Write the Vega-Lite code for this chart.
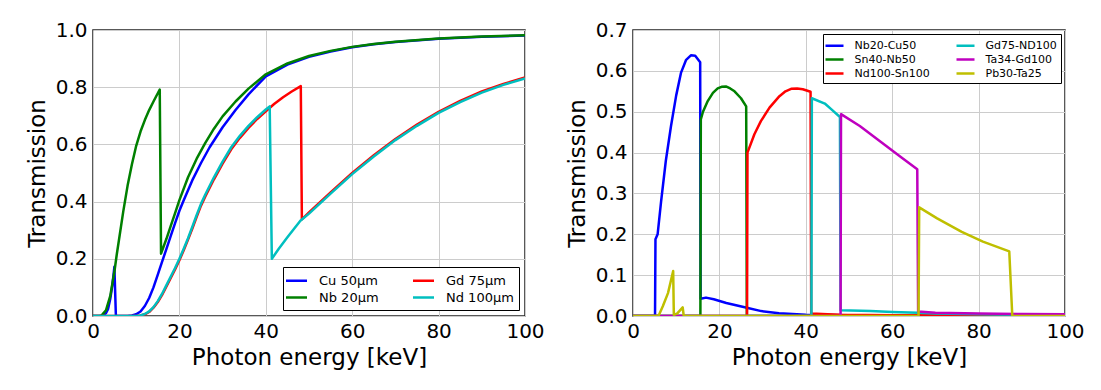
{
  "$schema": "https://vega.github.io/schema/vega-lite/v6.json",
  "background": "white",
  "padding": {"left": 25, "top": 19, "right": 5, "bottom": 5},
  "spacing": 108,
  "bounds": "flush",
  "resolve": {"scale": {"color": "independent"}, "legend": {"color": "independent"}},
  "config": {
    "font": "DejaVu Sans",
    "view": {"stroke": "#222222", "strokeWidth": 1.5},
    "axis": {"labelFont": "DejaVu Sans", "titleFont": "DejaVu Sans", "labelFontSize": 20, "titleFontSize": 23, "titleFontWeight": "normal", "labelColor": "#000000", "titleColor": "#000000", "ticks": false, "domain": false, "gridColor": "#cccccc", "gridWidth": 1, "labelFlush": false, "labelOverlap": false},
    "axisX": {"labelPadding": 5, "titlePadding": 5},
    "axisY": {"labelPadding": 6, "titlePadding": 6},
    "line": {"strokeWidth": 2.5, "strokeJoin": "round"}
  },
  "datasets": {
    "left": [
      {"s":"Cu 50µm","x":0,"y":0},{"s":"Cu 50µm","x":2,"y":0},{"s":"Cu 50µm","x":3,"y":0.01},{"s":"Cu 50µm","x":3.5,"y":0.025},{"s":"Cu 50µm","x":4,"y":0.06},{"s":"Cu 50µm","x":4.5,"y":0.11},{"s":"Cu 50µm","x":4.95,"y":0.172},{"s":"Cu 50µm","x":5.3,"y":0},{"s":"Cu 50µm","x":8,"y":0},{"s":"Cu 50µm","x":9,"y":0.002},{"s":"Cu 50µm","x":10,"y":0.006},{"s":"Cu 50µm","x":11,"y":0.016},{"s":"Cu 50µm","x":12,"y":0.035},{"s":"Cu 50µm","x":13,"y":0.063},{"s":"Cu 50µm","x":14,"y":0.1},{"s":"Cu 50µm","x":15,"y":0.145},{"s":"Cu 50µm","x":16,"y":0.19},{"s":"Cu 50µm","x":17,"y":0.235},{"s":"Cu 50µm","x":18,"y":0.28},{"s":"Cu 50µm","x":19,"y":0.325},{"s":"Cu 50µm","x":20,"y":0.368},{"s":"Cu 50µm","x":21,"y":0.405},{"s":"Cu 50µm","x":22,"y":0.44},{"s":"Cu 50µm","x":23,"y":0.475},{"s":"Cu 50µm","x":25,"y":0.535},{"s":"Cu 50µm","x":27,"y":0.59},{"s":"Cu 50µm","x":30,"y":0.66},{"s":"Cu 50µm","x":33,"y":0.72},{"s":"Cu 50µm","x":36,"y":0.775},{"s":"Cu 50µm","x":40,"y":0.838},{"s":"Cu 50µm","x":45,"y":0.879},{"s":"Cu 50µm","x":50,"y":0.906},{"s":"Cu 50µm","x":55,"y":0.925},{"s":"Cu 50µm","x":60,"y":0.94},{"s":"Cu 50µm","x":65,"y":0.95},{"s":"Cu 50µm","x":70,"y":0.958},{"s":"Cu 50µm","x":80,"y":0.969},{"s":"Cu 50µm","x":90,"y":0.976},{"s":"Cu 50µm","x":100,"y":0.981},
      {"s":"Nb 20µm","x":0,"y":0},{"s":"Nb 20µm","x":1.5,"y":0},{"s":"Nb 20µm","x":2,"y":0.002},{"s":"Nb 20µm","x":3,"y":0.02},{"s":"Nb 20µm","x":4,"y":0.07},{"s":"Nb 20µm","x":5,"y":0.16},{"s":"Nb 20µm","x":5.5,"y":0.215},{"s":"Nb 20µm","x":6,"y":0.265},{"s":"Nb 20µm","x":7,"y":0.365},{"s":"Nb 20µm","x":8,"y":0.455},{"s":"Nb 20µm","x":9,"y":0.53},{"s":"Nb 20µm","x":10,"y":0.595},{"s":"Nb 20µm","x":11,"y":0.645},{"s":"Nb 20µm","x":12,"y":0.685},{"s":"Nb 20µm","x":13,"y":0.72},{"s":"Nb 20µm","x":14,"y":0.75},{"s":"Nb 20µm","x":15.45,"y":0.792},{"s":"Nb 20µm","x":15.75,"y":0.218},{"s":"Nb 20µm","x":17,"y":0.27},{"s":"Nb 20µm","x":18,"y":0.315},{"s":"Nb 20µm","x":19,"y":0.36},{"s":"Nb 20µm","x":20,"y":0.405},{"s":"Nb 20µm","x":22,"y":0.485},{"s":"Nb 20µm","x":24,"y":0.55},{"s":"Nb 20µm","x":26,"y":0.605},{"s":"Nb 20µm","x":28,"y":0.655},{"s":"Nb 20µm","x":30,"y":0.698},{"s":"Nb 20µm","x":33,"y":0.75},{"s":"Nb 20µm","x":36,"y":0.795},{"s":"Nb 20µm","x":40,"y":0.845},{"s":"Nb 20µm","x":45,"y":0.883},{"s":"Nb 20µm","x":50,"y":0.909},{"s":"Nb 20µm","x":55,"y":0.927},{"s":"Nb 20µm","x":60,"y":0.941},{"s":"Nb 20µm","x":65,"y":0.951},{"s":"Nb 20µm","x":70,"y":0.959},{"s":"Nb 20µm","x":80,"y":0.97},{"s":"Nb 20µm","x":90,"y":0.977},{"s":"Nb 20µm","x":100,"y":0.982},
      {"s":"Gd 75µm","x":0,"y":0},{"s":"Gd 75µm","x":10,"y":0},{"s":"Gd 75µm","x":11,"y":0.002},{"s":"Gd 75µm","x":12,"y":0.006},{"s":"Gd 75µm","x":13,"y":0.014},{"s":"Gd 75µm","x":14,"y":0.029},{"s":"Gd 75µm","x":15,"y":0.049},{"s":"Gd 75µm","x":16,"y":0.074},{"s":"Gd 75µm","x":17,"y":0.103},{"s":"Gd 75µm","x":18,"y":0.133},{"s":"Gd 75µm","x":19,"y":0.163},{"s":"Gd 75µm","x":20,"y":0.195},{"s":"Gd 75µm","x":21,"y":0.23},{"s":"Gd 75µm","x":22,"y":0.267},{"s":"Gd 75µm","x":23,"y":0.306},{"s":"Gd 75µm","x":24,"y":0.347},{"s":"Gd 75µm","x":25,"y":0.386},{"s":"Gd 75µm","x":26,"y":0.418},{"s":"Gd 75µm","x":28,"y":0.478},{"s":"Gd 75µm","x":30,"y":0.533},{"s":"Gd 75µm","x":32,"y":0.583},{"s":"Gd 75µm","x":34,"y":0.623},{"s":"Gd 75µm","x":36,"y":0.658},{"s":"Gd 75µm","x":38,"y":0.689},{"s":"Gd 75µm","x":40,"y":0.716},{"s":"Gd 75µm","x":42,"y":0.742},{"s":"Gd 75µm","x":44,"y":0.765},{"s":"Gd 75µm","x":46,"y":0.785},{"s":"Gd 75µm","x":48.1,"y":0.804},{"s":"Gd 75µm","x":48.35,"y":0.338},{"s":"Gd 75µm","x":50,"y":0.362},{"s":"Gd 75µm","x":55,"y":0.432},{"s":"Gd 75µm","x":60,"y":0.5},{"s":"Gd 75µm","x":65,"y":0.562},{"s":"Gd 75µm","x":70,"y":0.619},{"s":"Gd 75µm","x":75,"y":0.669},{"s":"Gd 75µm","x":80,"y":0.714},{"s":"Gd 75µm","x":85,"y":0.752},{"s":"Gd 75µm","x":90,"y":0.785},{"s":"Gd 75µm","x":95,"y":0.811},{"s":"Gd 75µm","x":100,"y":0.834},
      {"s":"Nd 100µm","x":0,"y":0},{"s":"Nd 100µm","x":10,"y":0},{"s":"Nd 100µm","x":11,"y":0.002},{"s":"Nd 100µm","x":12,"y":0.007},{"s":"Nd 100µm","x":13,"y":0.016},{"s":"Nd 100µm","x":14,"y":0.031},{"s":"Nd 100µm","x":15,"y":0.052},{"s":"Nd 100µm","x":16,"y":0.078},{"s":"Nd 100µm","x":17,"y":0.108},{"s":"Nd 100µm","x":18,"y":0.138},{"s":"Nd 100µm","x":19,"y":0.168},{"s":"Nd 100µm","x":20,"y":0.2},{"s":"Nd 100µm","x":21,"y":0.235},{"s":"Nd 100µm","x":22,"y":0.272},{"s":"Nd 100µm","x":23,"y":0.312},{"s":"Nd 100µm","x":24,"y":0.353},{"s":"Nd 100µm","x":25,"y":0.392},{"s":"Nd 100µm","x":26,"y":0.425},{"s":"Nd 100µm","x":28,"y":0.485},{"s":"Nd 100µm","x":30,"y":0.54},{"s":"Nd 100µm","x":32,"y":0.59},{"s":"Nd 100µm","x":34,"y":0.63},{"s":"Nd 100µm","x":36,"y":0.665},{"s":"Nd 100µm","x":38,"y":0.695},{"s":"Nd 100µm","x":40,"y":0.722},{"s":"Nd 100µm","x":40.9,"y":0.733},{"s":"Nd 100µm","x":41.4,"y":0.2},{"s":"Nd 100µm","x":43,"y":0.235},{"s":"Nd 100µm","x":45,"y":0.275},{"s":"Nd 100µm","x":48,"y":0.333},{"s":"Nd 100µm","x":50,"y":0.358},{"s":"Nd 100µm","x":55,"y":0.428},{"s":"Nd 100µm","x":60,"y":0.496},{"s":"Nd 100µm","x":65,"y":0.558},{"s":"Nd 100µm","x":70,"y":0.615},{"s":"Nd 100µm","x":75,"y":0.665},{"s":"Nd 100µm","x":80,"y":0.71},{"s":"Nd 100µm","x":85,"y":0.748},{"s":"Nd 100µm","x":90,"y":0.781},{"s":"Nd 100µm","x":95,"y":0.808},{"s":"Nd 100µm","x":100,"y":0.831}
    ],
    "right": [
      {"s":"Nb20-Cu50","x":0,"y":0},{"s":"Nb20-Cu50","x":5.1,"y":0},{"s":"Nb20-Cu50","x":5.2,"y":0.188},{"s":"Nb20-Cu50","x":5.7,"y":0.2},{"s":"Nb20-Cu50","x":6.5,"y":0.28},{"s":"Nb20-Cu50","x":7.6,"y":0.38},{"s":"Nb20-Cu50","x":8.8,"y":0.465},{"s":"Nb20-Cu50","x":10,"y":0.54},{"s":"Nb20-Cu50","x":11.1,"y":0.595},{"s":"Nb20-Cu50","x":12.3,"y":0.627},{"s":"Nb20-Cu50","x":13.4,"y":0.638},{"s":"Nb20-Cu50","x":14.4,"y":0.637},{"s":"Nb20-Cu50","x":15.55,"y":0.621},{"s":"Nb20-Cu50","x":15.65,"y":0.042},{"s":"Nb20-Cu50","x":16.9,"y":0.045},{"s":"Nb20-Cu50","x":18.7,"y":0.041},{"s":"Nb20-Cu50","x":21.6,"y":0.032},{"s":"Nb20-Cu50","x":26.1,"y":0.021},{"s":"Nb20-Cu50","x":29.7,"y":0.012},{"s":"Nb20-Cu50","x":33.8,"y":0.007},{"s":"Nb20-Cu50","x":40,"y":0.003},{"s":"Nb20-Cu50","x":50,"y":0.002},{"s":"Nb20-Cu50","x":70,"y":0.001},{"s":"Nb20-Cu50","x":100,"y":0.001},
      {"s":"Sn40-Nb50","x":0,"y":0},{"s":"Sn40-Nb50","x":15.6,"y":0},{"s":"Sn40-Nb50","x":15.7,"y":0.481},{"s":"Sn40-Nb50","x":16.2,"y":0.5},{"s":"Sn40-Nb50","x":17.3,"y":0.526},{"s":"Sn40-Nb50","x":18.5,"y":0.546},{"s":"Sn40-Nb50","x":19.6,"y":0.557},{"s":"Sn40-Nb50","x":20.5,"y":0.561},{"s":"Sn40-Nb50","x":21.5,"y":0.562},{"s":"Sn40-Nb50","x":22.5,"y":0.557},{"s":"Sn40-Nb50","x":23.5,"y":0.55},{"s":"Sn40-Nb50","x":25,"y":0.533},{"s":"Sn40-Nb50","x":26.2,"y":0.513},{"s":"Sn40-Nb50","x":26.35,"y":0},{"s":"Sn40-Nb50","x":100,"y":0},
      {"s":"Nd100-Sn100","x":0,"y":0},{"s":"Nd100-Sn100","x":26.4,"y":0},{"s":"Nd100-Sn100","x":26.5,"y":0.4},{"s":"Nd100-Sn100","x":28.1,"y":0.445},{"s":"Nd100-Sn100","x":29.6,"y":0.477},{"s":"Nd100-Sn100","x":31.6,"y":0.51},{"s":"Nd100-Sn100","x":33.9,"y":0.538},{"s":"Nd100-Sn100","x":35.3,"y":0.55},{"s":"Nd100-Sn100","x":36.6,"y":0.556},{"s":"Nd100-Sn100","x":38,"y":0.557},{"s":"Nd100-Sn100","x":39.3,"y":0.555},{"s":"Nd100-Sn100","x":41.1,"y":0.549},{"s":"Nd100-Sn100","x":41.25,"y":0.006},{"s":"Nd100-Sn100","x":45,"y":0.004},{"s":"Nd100-Sn100","x":48,"y":0.003},{"s":"Nd100-Sn100","x":60,"y":0.002},{"s":"Nd100-Sn100","x":100,"y":0.001},
      {"s":"Gd75-ND100","x":0,"y":0},{"s":"Gd75-ND100","x":41.3,"y":0},{"s":"Gd75-ND100","x":41.4,"y":0.533},{"s":"Gd75-ND100","x":44.4,"y":0.52},{"s":"Gd75-ND100","x":46,"y":0.505},{"s":"Gd75-ND100","x":47.9,"y":0.487},{"s":"Gd75-ND100","x":48.05,"y":0.014},{"s":"Gd75-ND100","x":55,"y":0.012},{"s":"Gd75-ND100","x":60,"y":0.01},{"s":"Gd75-ND100","x":66,"y":0.008},{"s":"Gd75-ND100","x":70,"y":0.006},{"s":"Gd75-ND100","x":80,"y":0.004},{"s":"Gd75-ND100","x":90,"y":0.003},{"s":"Gd75-ND100","x":100,"y":0.003},
      {"s":"Ta34-Gd100","x":0,"y":0},{"s":"Ta34-Gd100","x":48.05,"y":0},{"s":"Ta34-Gd100","x":48.15,"y":0.494},{"s":"Ta34-Gd100","x":52.5,"y":0.465},{"s":"Ta34-Gd100","x":57.4,"y":0.426},{"s":"Ta34-Gd100","x":62.3,"y":0.387},{"s":"Ta34-Gd100","x":65.8,"y":0.359},{"s":"Ta34-Gd100","x":66,"y":0.011},{"s":"Ta34-Gd100","x":70,"y":0.008},{"s":"Ta34-Gd100","x":80,"y":0.006},{"s":"Ta34-Gd100","x":90,"y":0.005},{"s":"Ta34-Gd100","x":100,"y":0.004},
      {"s":"Pb30-Ta25","x":0,"y":0},{"s":"Pb30-Ta25","x":5.9,"y":0},{"s":"Pb30-Ta25","x":6.9,"y":0.024},{"s":"Pb30-Ta25","x":8.1,"y":0.056},{"s":"Pb30-Ta25","x":9.3,"y":0.11},{"s":"Pb30-Ta25","x":9.45,"y":0.003},{"s":"Pb30-Ta25","x":10.2,"y":0.006},{"s":"Pb30-Ta25","x":11.5,"y":0.021},{"s":"Pb30-Ta25","x":11.75,"y":0},{"s":"Pb30-Ta25","x":66.1,"y":0},{"s":"Pb30-Ta25","x":66.25,"y":0.266},{"s":"Pb30-Ta25","x":70.4,"y":0.239},{"s":"Pb30-Ta25","x":76.1,"y":0.206},{"s":"Pb30-Ta25","x":81,"y":0.182},{"s":"Pb30-Ta25","x":87.1,"y":0.158},{"s":"Pb30-Ta25","x":87.8,"y":0},{"s":"Pb30-Ta25","x":100,"y":0}
    ]
  },
  "hconcat": [
    {
      "width": 432,
      "height": 286,
      "data": {"name": "left"},
      "mark": {"type": "line", "strokeWidth": 2.5, "strokeJoin": "round", "clip": true},
      "encoding": {
        "x": {"field": "x", "type": "quantitative", "scale": {"domain": [0, 100], "nice": false, "zero": false}, "axis": {"values": [0, 20, 40, 60, 80, 100], "title": "Photon energy [keV]"}},
        "y": {"field": "y", "type": "quantitative", "scale": {"domain": [0, 1], "nice": false}, "axis": {"values": [0, 0.2, 0.4, 0.6, 0.8, 1.0], "format": ".1f", "title": "Transmission"}},
        "color": {
          "field": "s", "type": "nominal",
          "scale": {"domain": ["Cu 50µm", "Nb 20µm", "Gd 75µm", "Nd 100µm"], "range": ["#0000ff", "#008000", "#ff0000", "#00bfbf"]},
          "legend": {"orient": "bottom-right", "offset": 6, "title": null, "columns": 2, "columnPadding": 32, "rowPadding": 1, "padding": 5, "fillColor": "white", "strokeColor": "#000000", "cornerRadius": 0, "symbolType": "M-1.5,0L1.5,0", "symbolSize": 196, "symbolStrokeWidth": 2.5, "labelFontSize": 13, "labelFont": "DejaVu Sans", "labelOffset": 14, "labelColor": "#000000"}
        }
      }
    },
    {
      "width": 432,
      "height": 286,
      "data": {"name": "right"},
      "mark": {"type": "line", "strokeWidth": 2.5, "strokeJoin": "round", "clip": true},
      "encoding": {
        "x": {"field": "x", "type": "quantitative", "scale": {"domain": [0, 100], "nice": false, "zero": false}, "axis": {"values": [0, 20, 40, 60, 80, 100], "title": "Photon energy [keV]"}},
        "y": {"field": "y", "type": "quantitative", "scale": {"domain": [0, 0.7], "nice": false}, "axis": {"values": [0, 0.1, 0.2, 0.3, 0.4, 0.5, 0.6, 0.7], "format": ".1f", "title": "Transmission"}},
        "color": {
          "field": "s", "type": "nominal",
          "scale": {"domain": ["Nb20-Cu50", "Sn40-Nb50", "Nd100-Sn100", "Gd75-ND100", "Ta34-Gd100", "Pb30-Ta25"], "range": ["#0000ff", "#008000", "#ff0000", "#00bfbf", "#bf00bf", "#bfbf00"]},
          "legend": {"orient": "top-right", "offset": 4, "title": null, "columns": 2, "columnPadding": 25, "rowPadding": 1, "padding": 4, "fillColor": "white", "strokeColor": "#000000", "cornerRadius": 0, "symbolType": "M-1.5,0L1.5,0", "symbolSize": 144, "symbolStrokeWidth": 2.5, "labelFontSize": 11, "labelFont": "DejaVu Sans", "labelOffset": 12.5, "labelColor": "#000000"}
        }
      }
    }
  ]
}
